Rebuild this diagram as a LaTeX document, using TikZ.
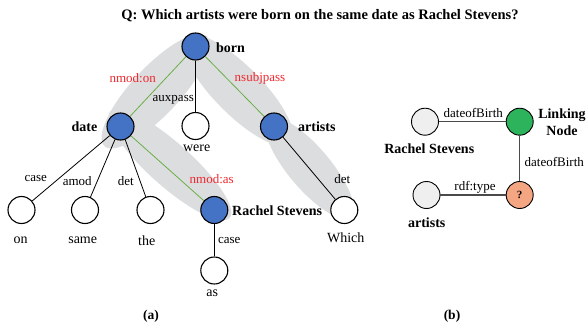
\documentclass[tikz,border=0pt]{standalone}
\usepackage{fontspec}
\setmainfont{Liberation Serif}
\definecolor{band}{HTML}{DCDDDF}
\definecolor{nblue}{HTML}{4472C4}
\definecolor{egreen}{HTML}{6AAE47}
\definecolor{lred}{HTML}{F0282D}
\definecolor{lgreen}{HTML}{2DB35B}
\definecolor{qorange}{HTML}{F4A582}
\definecolor{lgray}{HTML}{EFEFEF}
\definecolor{kedge}{HTML}{4A4A4A}
\tikzset{
  tok/.style={circle,draw=black,line width=1.1pt,minimum size=27pt,inner sep=0pt},
  head/.style={tok,fill=nblue},
  leaf/.style={tok,fill=white},
  kgnode/.style={circle,draw=black,line width=0.9pt,minimum size=27pt,inner sep=0pt},
  word/.style={font=\fontsize{14}{16}\selectfont,inner sep=1pt},
  bword/.style={font=\fontsize{14}{16.5}\selectfont\bfseries,inner sep=1pt},
  rel/.style={font=\fontsize{13}{15}\selectfont,inner sep=1pt},
  rrel/.style={rel,text=lred},
  dep/.style={line width=0.8pt,black},
  gdep/.style={line width=0.8pt,egreen},
  kedgestyle/.style={line width=1.4pt,kedge},
  caption/.style={font=\fontsize{13.5}{16}\selectfont\bfseries}
}
\begin{document}
\begin{tikzpicture}[x=1pt,y=-1pt]
\useasboundingbox (0,0) rectangle (587,324);

% title
\node[font=\fontsize{14.5}{17}\selectfont\bfseries] (title) at (320,16)
  {Q: Which artists were born on the same date as Rachel Stevens?};

% highlighted dependency paths (soft elongated blobs)
\fill[band,shift={(155.6,91.2)},rotate=47] (0,0) ellipse [x radius=75pt,y radius=24pt];
\fill[band,shift={(170,164.6)},rotate=-41.8] (0,0) ellipse [x radius=80pt,y radius=21.5pt];
\fill[band,shift={(238,90.1)},rotate=-45.4] (0,0) ellipse [x radius=75pt,y radius=24pt];
\fill[band,shift={(309.5,168)},rotate=-49.8] (0,0) ellipse [x radius=64pt,y radius=21pt];

% dependency tree nodes
\node[head] (born) at (195.5,46.5) {};
\node[head] (date) at (120.5,126.5) {};
\node[leaf] (were) at (195.5,126) {};
\node[head] (artists) at (274,126.5) {};
\node[leaf] (on) at (21.5,210) {};
\node[leaf] (same) at (85,210) {};
\node[leaf] (the) at (150.5,210) {};
\node[head] (rachel) at (214.3,210) {};
\node[leaf] (which) at (344.3,210) {};
\node[leaf] (as) at (214.3,270.5) {};

% dependency edges
\draw[gdep] (born) -- (date);
\draw[dep] (born) -- (were);
\draw[gdep] (born) -- (artists);
\draw[dep] (date) -- (on);
\draw[dep] (date) -- (same);
\draw[dep] (date) -- (the);
\draw[gdep] (date) -- (rachel);
\draw[dep] (artists) -- (which);
\draw[dep] (rachel) -- (as);

% node words
\node[bword,anchor=west] (lborn) at (215,47.5) {born};
\node[bword,anchor=east] (ldate) at (98.5,126.5) {date};
\node[bword,anchor=west] (lartists) at (297,126.5) {artists};
\node[bword,anchor=west] (lrachel) at (231,210.5) {Rachel Stevens};
\node[word] (lwere) at (196.7,148.5) {were};
\node[word] (lon) at (20.7,240.7) {on};
\node[word] (lsame) at (82.7,240.7) {same};
\node[word] (lthe) at (146.7,240.7) {the};
\node[word] (lwhich) at (345.7,237.3) {Which};
\node[word] (las) at (212.3,293.3) {as};

% relation labels
\node[rrel] (rnmodon) at (132.7,78.3) {nmod:on};
\node[rrel] (rnsubj) at (260,78.3) {nsubjpass};
\node[rel] (raux) at (173.3,99.5) {auxpass};
\node[rel] (rcase1) at (35.7,178.3) {case};
\node[rel] (ramod) at (77.3,180.7) {amod};
\node[rel] (rdet1) at (125.7,180.7) {det};
\node[rrel] (rnmodas) at (211.7,179.3) {nmod:as};
\node[rel] (rdet2) at (342.3,179.3) {det};
\node[rel] (rcase2) at (229.3,240) {case};

\node[caption] (capa) at (151,316.5) {(a)};

% knowledge graph
\node[kgnode,fill=lgray] (kgrachel) at (425,121.7) {};
\node[kgnode,fill=lgreen] (kglink) at (519.7,121.7) {};
\node[kgnode,fill=lgray] (kgartists) at (426.5,195) {};
\node[kgnode,fill=qorange,font=\fontsize{11}{13}\selectfont\bfseries] (kgq) at (519.7,195) {?};

\draw[kedgestyle] (kgrachel) -- (kglink);
\draw[kedgestyle] (kglink) -- (kgq);
\draw[kedgestyle] (kgartists) -- (kgq);

\node[rel] (kr1) at (473.3,113.3) {dateofBirth};
\node[rel] (kr2) at (554.3,161.7) {dateofBirth};
\node[rel] (kr3) at (475,187.7) {rdf:type};

\node[bword,align=center] (klink) at (562,122) {Linking\\Node};
\node[bword] (krachel) at (429.3,149) {Rachel Stevens};
\node[bword] (kartists) at (426.7,222.7) {artists};

\node[caption] (capb) at (452,316.5) {(b)};
\end{tikzpicture}
\end{document}
